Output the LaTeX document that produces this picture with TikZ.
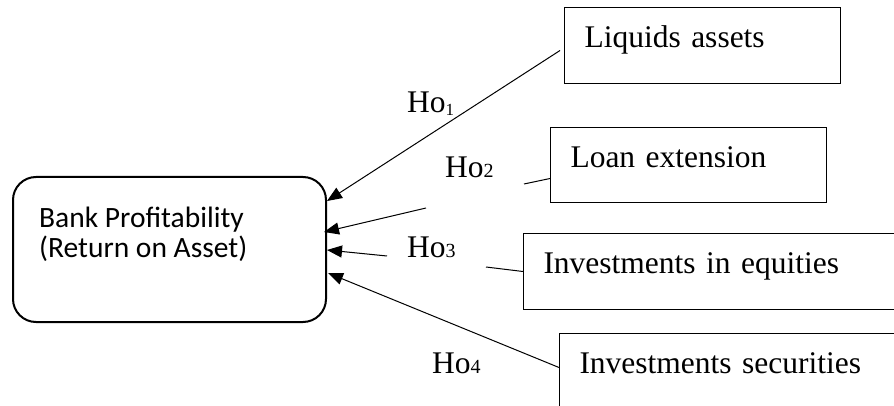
\documentclass[tikz,border=0pt]{standalone}
\usepackage{fontspec}
\setmainfont{Liberation Serif}
\newfontfamily\calib{Carlito}
\usetikzlibrary{arrows.meta}
\begin{document}
\begin{tikzpicture}[x=1pt,y=-1pt,
  rbox/.style={draw, line width=1pt, anchor=north west, inner xsep=20pt, inner ysep=0pt, text height=40pt, align=left, font=\fontsize{31.5}{36}\selectfont},
  bpbox/.style={draw, line width=2pt, rounded corners=23pt, minimum width=313pt, minimum height=145pt, inner sep=0pt},
  conn/.style={line width=1pt},
  arr/.style={conn, -{Triangle[length=15pt,width=12pt]}},
  holab/.style={anchor=base west, inner sep=0pt, font=\fontsize{31.5}{36}\selectfont}
]
\useasboundingbox (0,0) rectangle (894,406);
\fill[white] (0,0) rectangle (894,406);
% target box
\node[bpbox] (bp) at (169.5,249.5) {};
\node[anchor=base west, align=left, inner sep=0pt, font=\calib\fontsize{29.5}{29.5}\selectfont] (bpt) at (39,257) {Bank Profitability\\(Return on Asset)};
% source boxes
\node[rbox, text width=236pt, text depth=36pt] (b1) at (564,7) {Liquids assets};
\node[rbox, text width=236pt, text depth=35pt] (b2) at (550,127) {Loan extension};
\node[rbox, text width=420pt, text depth=36pt] (b3) at (523,233) {Investments in equities};
\node[rbox, text width=400pt, text depth=60pt] (b4) at (559,333) {Investments securities};
% labels
\node[holab] (h1) at (407,113) {Ho\raisebox{-3pt}{\fontsize{17}{17}\selectfont 1}};
\node[holab] (h2) at (445,178) {Ho{\fontsize{20}{20}\selectfont 2}};
\node[holab] (h3) at (407,258) {Ho{\fontsize{20}{20}\selectfont 3}};
\node[holab] (h4) at (432,373) {Ho{\fontsize{20}{20}\selectfont 4}};
% connector break points
\coordinate (g2a) at (524,184);
\coordinate (g2b) at (426,208);
\coordinate (g3a) at (486,267);
\coordinate (g3b) at (387,256);
% connectors
\draw[arr] ([xshift=-4pt,yshift=-5pt]b1.west) -- ([yshift=48.5pt]bp.east);
\draw[conn] ([yshift=-13.5pt]b2.west) -- (g2a);
\draw[arr] (g2b) -- ([xshift=-3pt,yshift=17.5pt]bp.east);
\draw[conn] (b3.west) -- (g3a);
\draw[arr] (g3b) -- ([yshift=-0.5pt]bp.east);
\draw[arr] ([yshift=16pt]b4.west) -- ([xshift=1pt,yshift=-23.5pt]bp.east);
\end{tikzpicture}
\end{document}
